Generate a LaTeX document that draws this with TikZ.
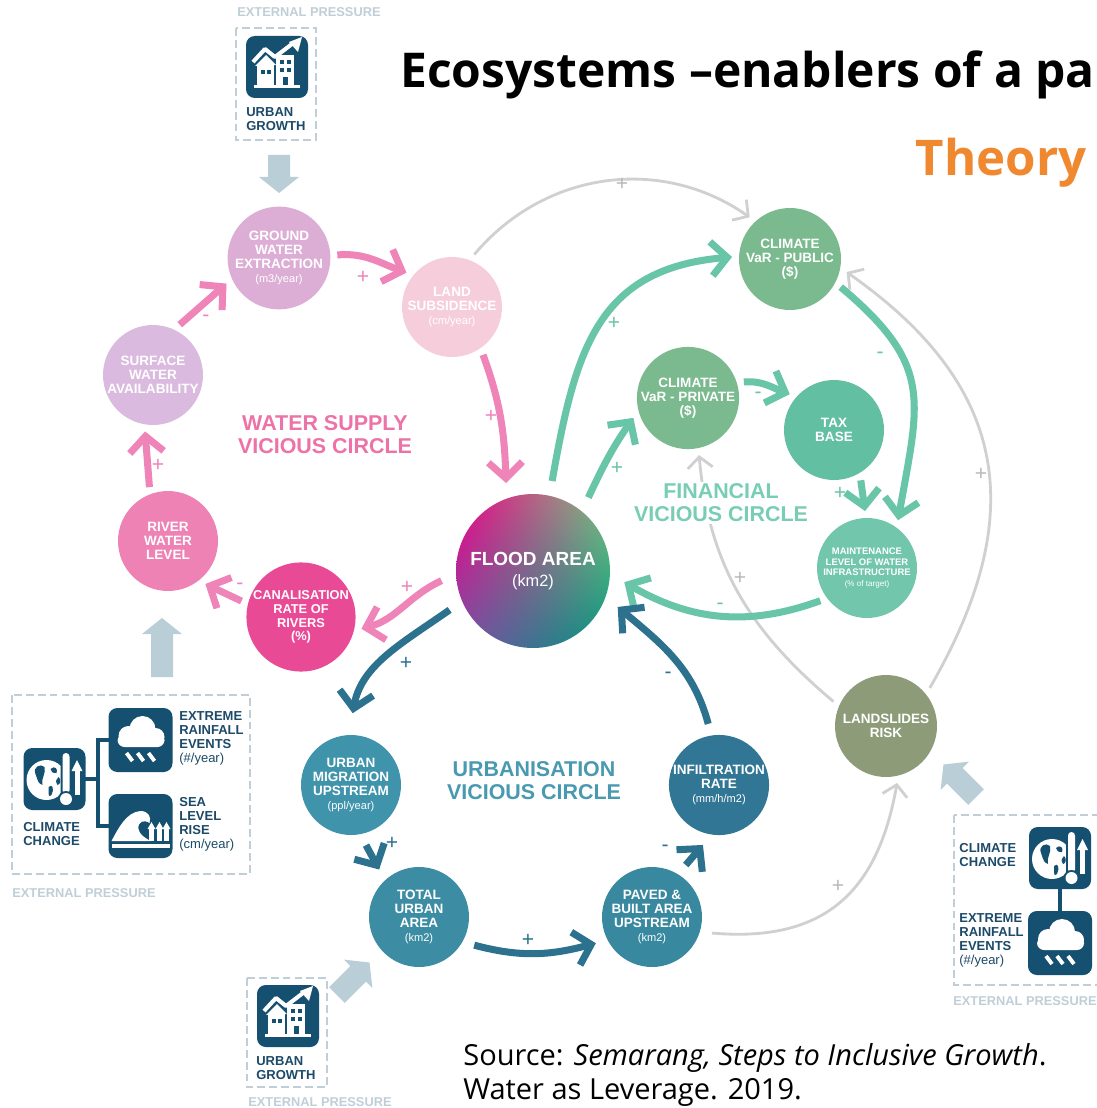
\documentclass[tikz,border=0pt]{standalone}
\usepackage{fontspec}
\usetikzlibrary{arrows.meta,shadings}
\newfontfamily\labelfont{Liberation Sans}
\newfontfamily\titlefont{Open Sans}
\newcommand{\unitsz}{\mdseries\fontsize{6.3}{8}\selectfont}

% circle fills
\definecolor{gwcol}{RGB}{221,174,213}
\definecolor{lscol}{RGB}{246,206,219}
\definecolor{swcol}{RGB}{218,186,222}
\definecolor{rwcol}{RGB}{238,130,181}
\definecolor{crcol}{RGB}{233,74,150}
\definecolor{cvcol}{RGB}{122,186,142}
\definecolor{taxcol}{RGB}{99,191,161}
\definecolor{mtcol}{RGB}{113,198,171}
\definecolor{umcol}{RGB}{63,147,171}
\definecolor{tucol}{RGB}{60,141,164}
\definecolor{pbcol}{RGB}{56,136,160}
\definecolor{ircol}{RGB}{49,119,149}
\definecolor{lrcol}{RGB}{141,155,121}
% flood area corners
\definecolor{faul}{RGB}{240,0,135}
\definecolor{faur}{RGB}{125,195,130}
\definecolor{fall}{RGB}{120,80,165}
\definecolor{falr}{RGB}{0,150,125}
% lines and texts
\definecolor{pinkln}{RGB}{239,132,184}
\definecolor{greenln}{RGB}{104,197,168}
\definecolor{tealln}{RGB}{44,114,142}
\definecolor{grayln}{RGB}{208,208,208}
\definecolor{graysg}{RGB}{185,185,185}
\definecolor{wstcol}{RGB}{236,114,167}
\definecolor{fincol}{RGB}{120,205,180}
\definecolor{urbcol}{RGB}{73,153,176}
\definecolor{iconblue}{RGB}{22,80,112}
\definecolor{boxtext}{RGB}{28,74,104}
\definecolor{presscol}{RGB}{192,207,215}
\definecolor{blockcol}{RGB}{186,206,216}
\definecolor{theorycol}{RGB}{240,136,48}

\tikzset{
  bub/.style={circle,minimum size=2cm,inner sep=0pt,outer sep=0.14cm,align=center,text=white,
    font=\labelfont\bfseries\fontsize{7.7}{8}\selectfont},
  flowpk/.style={line width=4pt,draw=pinkln,-{Straight Barb[length=0.32cm,width=0.68cm]}},
  flowgr/.style={line width=4pt,draw=greenln,-{Straight Barb[length=0.32cm,width=0.68cm]}},
  flowtl/.style={line width=4pt,draw=tealln,-{Straight Barb[length=0.32cm,width=0.68cm]}},
  flowgy/.style={line width=1.6pt,draw=grayln,-{Straight Barb[length=0.22cm,width=0.5cm]}},
  sgn/.style={font=\labelfont\fontsize{12}{12}\selectfont,inner sep=0pt},
  ctitle/.style={font=\labelfont\bfseries\fontsize{12.2}{13}\selectfont,align=center,fill=white,inner sep=1pt},
  prs/.style={font=\labelfont\bfseries\fontsize{7.3}{8}\selectfont,text=presscol,inner sep=0pt,anchor=north west},
  blab/.style={font=\labelfont\bfseries\fontsize{7.4}{8}\selectfont,text=boxtext,align=left,inner sep=0pt,anchor=north west},
  pdash/.style={draw=presscol,line width=1.1pt,dash pattern=on 4.5pt off 2.3pt},
  treeln/.style={draw=iconblue,line width=2.2pt},
  pics/blockarr/.style={code={
    \fill[blockcol] (0,-11) -- (#1-16,-11) -- (#1-16,-20) -- (#1,0) -- (#1-16,20) -- (#1-16,11) -- (0,11) -- cycle;
  }},
  pics/growthicon/.style={code={
    \fill[iconblue,rounded corners=5pt] (-31,-31) rectangle (31,31);
    \fill[white] (-23,-21) rectangle (23,-18);
    \fill[white] (-20,-18) rectangle (-3,2);
    \fill[white] (-22,1) -- (-11,12) -- (-1,2) -- cycle;
    \fill[white] (-1,-18) rectangle (17,12);
    \foreach \wx/\wy in {-16/-7,-10/-7,3/3,10/3,3/-5,10/-5}
      \fill[iconblue] (\wx,\wy) rectangle ++(4,4);
    \fill[iconblue] (6,-18) rectangle (11,-10);
    \draw[white,line width=2.3pt,line join=round] (-24,5) -- (-12,18) -- (-2,10) -- (15,23);
    \fill[white] (25,30) -- (21,15) -- (12,25) -- cycle;
  }},
  pics/globeicon/.style={code={
    \fill[iconblue,rounded corners=5pt] (-31,-31) rectangle (31,31);
    \fill[white] (-8,-1) circle (20);
    \fill[iconblue] (-19,5) .. controls (-22,12) and (-14,16) .. (-10,12) .. controls (-8,6) and (-14,0) .. (-12,-6) .. controls (-16,-4) .. cycle;
    \fill[iconblue] (-6,-8) .. controls (-2,-4) and (0,-10) .. (-3,-16) .. controls (-6,-18) .. cycle;
    \fill[iconblue] (-4,10) .. controls (0,14) and (4,10) .. (2,6) .. controls (-2,6) .. cycle;
    \fill[iconblue] (4,2) .. controls (7,0) and (6,-6) .. (3,-6) .. controls (1,-2) .. cycle;
    \fill[iconblue,rounded corners=2pt] (6,-17) rectangle (17,28);
    \fill[white,rounded corners=2pt] (8,-15) rectangle (15,26);
    \fill[iconblue] (11.5,-20) circle (8);
    \fill[white] (11.5,-20) circle (6);
    \fill[white] (20,-16) rectangle (25,8);
    \fill[white] (17,8) -- (22.5,19) -- (28,8) -- cycle;
  }},
  pics/rainicon/.style={code={
    \fill[iconblue,rounded corners=5pt] (-32,-32) rectangle (32,32);
    \fill[white] (-12,4) circle (10);
    \fill[white] (2,11) circle (13);
    \fill[white] (15,3) circle (9);
    \fill[white,rounded corners=4pt] (-23,-7) rectangle (24,6);
    \foreach \rx in {-11,0,11}
      \draw[white,line width=2.2pt] (\rx-3,-13) -- (\rx+3,-21);
  }},
  pics/waveicon/.style={code={
    \fill[iconblue,rounded corners=5pt] (-32,-32) rectangle (32,32);
    \fill[white] (-29,-15) .. controls (-22,-2) and (-14,14) .. (0,15)
       .. controls (8,15) and (11,9) .. (9,3) .. controls (3,7) and (-3,4) .. (-2,-3)
       .. controls (-1,-9) and (5,-12) .. (10,-15) -- cycle;
    \fill[white] (-29,-22) rectangle (29,-18);
    \foreach \hx in {11,19,26} {
      \fill[white] (\hx-2.5,-15) rectangle (\hx+2.5,-3);
      \fill[white] (\hx-4,-3) -- (\hx,4) -- (\hx+4,-3) -- cycle;
    }
  }}
}

\begin{document}
\begin{tikzpicture}[x=0.02cm,y=0.02cm]
\path[use as bounding box,fill=white] (0,0) rectangle (1096,-1108);

% headings
\node[anchor=base west,inner sep=0pt,font=\titlefont\bfseries\fontsize{27.3}{32}\selectfont] (ttl) at (400,-88) {Ecosystems –enablers of a pa};
\node[anchor=base east,inner sep=0pt,text=theorycol,font=\titlefont\bfseries\fontsize{28}{32}\selectfont] (thr) at (1087,-175) {Theory};

% water supply circle
\node[bub,fill=gwcol] (gw) at (279,-258) {GROUND\\WATER\\EXTRACTION\\{\unitsz(m3/year)}};
\node[bub,fill=lscol] (ls) at (452,-307) {LAND\\SUBSIDENCE\\{\unitsz(cm/year)}};
\node[bub,fill=swcol] (sw) at (153,-375) {SURFACE\\WATER\\AVAILABILITY};
\node[bub,fill=rwcol] (rw) at (168,-541) {RIVER\\WATER\\LEVEL};
\node[bub,fill=crcol,font=\labelfont\bfseries\fontsize{7.3}{7.8}\selectfont] (cr) at (301,-617) {CANALISATION\\RATE OF\\RIVERS\\(\%)};
\node[bub,minimum size=3.08cm,outer sep=0.3cm,shade,upper left=faul,upper right=faur,lower left=fall,lower right=falr,
  font=\labelfont\bfseries\fontsize{10.8}{12}\selectfont] (fa) at (533,-571) {FLOOD AREA\\{\mdseries\fontsize{9.3}{12}\selectfont(km2)}};

% financial circle
\node[bub,fill=cvcol,minimum size=2.04cm] (cvpub) at (790,-259) {CLIMATE\\VaR - PUBLIC\\(\$)};
\node[bub,fill=cvcol] (cvpriv) at (688,-398) {CLIMATE\\VaR - PRIVATE\\(\$)};
\node[bub,fill=taxcol] (tax) at (834,-430) {TAX\\BASE};
\node[bub,fill=mtcol,font=\labelfont\bfseries\fontsize{5.4}{6.2}\selectfont] (mtc) at (867,-568) {MAINTENANCE\\LEVEL OF WATER\\INFRASTRUCTURE\\{\mdseries\fontsize{4.6}{6.2}\selectfont(\% of target)}};

% urbanisation circle
\node[bub,fill=umcol,outer sep=0.24cm] (um) at (351,-785) {URBAN\\MIGRATION\\UPSTREAM\\{\unitsz(ppl/year)}};
\node[bub,fill=tucol,outer sep=0.24cm] (tua) at (419,-917) {TOTAL\\URBAN\\AREA\\{\unitsz(km2)}};
\node[bub,fill=pbcol,outer sep=0.24cm] (pba) at (652,-917) {PAVED \&\\BUILT AREA\\UPSTREAM\\{\unitsz(km2)}};
\node[bub,fill=ircol,outer sep=0.24cm] (inf) at (719,-785) {INFILTRATION\\RATE\\{\unitsz(mm/h/m2)}};
\node[bub,fill=lrcol,minimum size=2.04cm] (lsr) at (886,-726) {LANDSLIDES\\RISK};

% grey links between the circles
\draw[flowgy] (ls.67) to[out=50,in=145] (cvpub.134);
\draw[flowgy] (lsr.155) to[out=140,in=-85] (cvpriv.281);
\draw[flowgy] (lsr.41) to[out=60,in=-35,looseness=1.2] (cvpub.347);
\draw[flowgy] (pba.345) to[out=-5,in=-100,looseness=1.2] (lsr.281);

% water supply loop
\draw[flowpk] (sw.62) -- (gw.206);
\draw[flowpk] (gw.3) to[out=5,in=160] (ls.143);
\draw[flowpk] (ls.303) to[out=-70,in=92] (fa.107);
\draw[flowpk] (fa.186) to[out=205,in=15] (cr.349);
\draw[flowpk] (cr.165) -- (rw.311);
\draw[flowpk] (rw.109) -- (sw.262);

% financial loop
\draw[flowgr] (fa.78) to[out=80,in=185,looseness=1.2] (cvpub.178);
\draw[flowgr] (fa.53) to[out=65,in=235] (cvpriv.200);
\draw[flowgr] (cvpriv.16) to[out=5,in=160] (tax.141);
\draw[flowgr] (tax.298) -- (mtc.92);
\draw[flowgr] (cvpub.331) to[out=-40,in=80,looseness=1.3] (mtc.57);
\draw[flowgr] (mtc.215) to[out=200,in=-30] (fa.353);

% urbanisation loop
\draw[flowtl,shorten >=0.2cm] (fa.205) to[out=215,in=80] (um.90);
\draw[flowtl] (um.284) -- (tua.130);
\draw[flowtl] (tua.333) to[out=-15,in=195] (pba.205);
\draw[flowtl] (pba.57) -- (inf.255);
\draw[flowtl] (inf.100) to[out=105,in=-40] (fa.337);

% loop names
\node[ctitle,text=wstcol] (wst) at (325,-435) {WATER SUPPLY\\VICIOUS CIRCLE};
\node[ctitle,text=fincol] (fint) at (721,-503) {FINANCIAL\\VICIOUS CIRCLE};
\node[ctitle,text=urbcol] (urbt) at (534,-781) {URBANISATION\\VICIOUS CIRCLE};

% signs on the links
\foreach \x/\y/\sg [count=\i] in {206/318/-,363/277/+,491/416/+,407/587/+,240/586/-,158/465/+}
  \node[sgn,text=pinkln] (sp\i) at (\x,-\y) {\sg};
\foreach \x/\y/\sg [count=\i] in {614/323/+,617/468/+,758/395/-,840/493/+,880/355/-,720/606/-}
  \node[sgn,text=greenln] (sg\i) at (\x,-\y) {\sg};
\foreach \x/\y/\sg [count=\i] in {406/663/+,392/843/+,528/940/+,665/848/-,668/675/-}
  \node[sgn,text=tealln] (st\i) at (\x,-\y) {\sg};
\foreach \x/\y/\sg [count=\i] in {622/184/+,740/578/+,981/474/+,838/886/+}
  \node[sgn,text=graysg] (sy\i) at (\x,-\y) {\sg};

% external pressure: urban growth (top)
\node[prs] (ep1) at (237,-7) {EXTERNAL PRESSURE};
\draw[pdash] (236,-28) rectangle (316,-140);
\pic at (277,-67) {growthicon};
\node[blab] (ug1) at (246,-107) {URBAN\\GROWTH};
\pic[rotate=-90] at (279,-155) {blockarr=38};

% external pressure: climate change (left)
\draw[pdash] (12,-695) rectangle (250,-874);
\coordinate (glL) at (54.5,-779);
\coordinate (jx) at (98,-779);
\coordinate (rnL) at (140.5,-740);
\coordinate (seL) at (140.5,-826);
\draw[treeln] (glL) -- (jx) |- (rnL);
\draw[treeln] (jx) |- (seL);
\pic at (glL) {globeicon};
\pic at (rnL) {rainicon};
\pic at (seL) {waveicon};
\node[blab] (er1) at (179,-711) {EXTREME\\RAINFALL\\EVENTS\\{\mdseries(\#/year)}};
\node[blab] (sl1) at (179,-797) {SEA\\LEVEL\\RISE\\{\mdseries(cm/year)}};
\node[blab] (cc1) at (23,-822) {CLIMATE\\CHANGE};
\node[prs] (ep2) at (12,-888) {EXTERNAL PRESSURE};
\pic[rotate=90] at (162,-677) {blockarr=59};

% external pressure: climate change (right)
\draw[pdash] (954,-815) rectangle (1102,-985);
\coordinate (glR) at (1060,-858);
\coordinate (rnR) at (1060,-943);
\draw[treeln] (glR) -- (rnR);
\pic at (glR) {globeicon};
\pic at (rnR) {rainicon};
\node[blab] (cc2) at (959,-843) {CLIMATE\\CHANGE};
\node[blab] (er2) at (959,-913) {EXTREME\\RAINFALL\\EVENTS\\{\mdseries(\#/year)}};
\node[prs] (ep3) at (953,-996) {EXTERNAL PRESSURE};
\pic[rotate=135] at (976,-797) {blockarr=46};

% external pressure: urban growth (bottom)
\draw[pdash] (247,-978) rectangle (327,-1087);
\pic at (288,-1016) {growthicon};
\node[blab] (ug2) at (256,-1056) {URBAN\\GROWTH};
\node[prs] (ep4) at (248,-1097) {EXTERNAL PRESSURE};
\pic[rotate=45] at (337,-995) {blockarr=46};

% source
\node[anchor=base west,inner sep=0pt,font=\titlefont\fontsize{16.5}{20}\selectfont] (src1) at (463,-1065) {Source: \textit{Semarang, Steps to Inclusive Growth}.};
\node[anchor=base west,inner sep=0pt,font=\titlefont\fontsize{16.5}{20}\selectfont] (src2) at (463,-1099) {Water as Leverage. 2019.};
\end{tikzpicture}
\end{document}
